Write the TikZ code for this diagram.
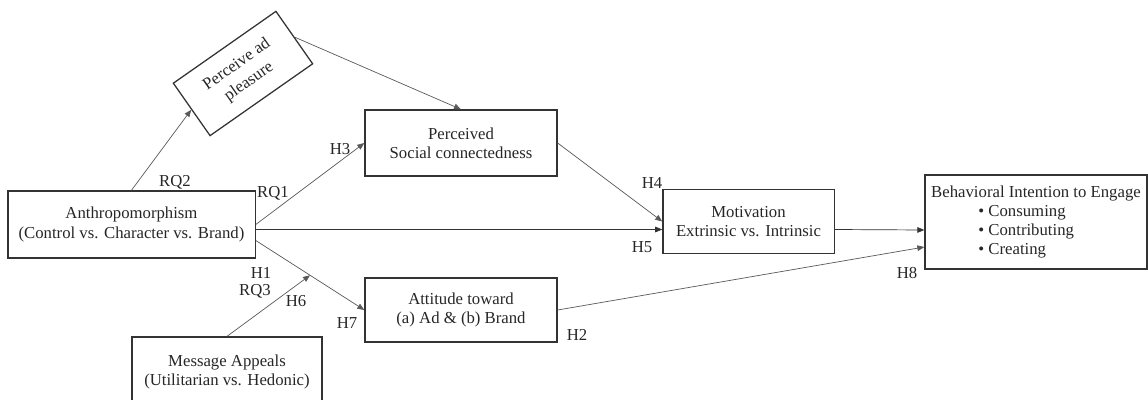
\documentclass[tikz,border=0pt]{standalone}
\usepackage{fontspec}
\setmainfont{Liberation Serif}
\usepackage{xcolor}
\usepackage{tikz}
\usetikzlibrary{arrows.meta}

\begin{document}
\begin{tikzpicture}[x=0.025cm, y=-0.025cm,
  every node/.style={font=\fontsize{11.9}{13.6}\selectfont, text=black!85},
  box/.style={rectangle, draw=black!80, line width=0.9pt, align=center, inner sep=0pt},
  link/.style={line width=0.5pt, draw=black!65, -{Triangle[length=5pt,width=4pt]}}]
\useasboundingbox (0,0) rectangle (1148,400);

\node[box, minimum width=6.18cm, minimum height=1.68cm] at (131.5, 224.5) (anth) {Anthropomorphism\\(Control vs. Character vs. Brand)};
\node[box, minimum width=3.13cm, minimum height=1.6cm, rotate=35, font=\fontsize{11.9}{15}\selectfont] at (243, 73.5) (pap) {Perceive ad\\pleasure};
\node[box, minimum width=4.8cm, minimum height=1.65cm] at (461, 143) (psc) {Perceived\\Social connectedness};
\node[box, minimum width=4.8cm, minimum height=1.6cm] at (461, 310) (att) {Attitude toward\\(a) Ad \& (b) Brand};
\node[box, minimum width=4.28cm, minimum height=1.6cm] at (748.5, 221.5) (mot) {Motivation\\Extrinsic vs. Intrinsic};
\node[box, minimum width=5.55cm, minimum height=2.35cm, align=left] at (1036, 222) (beh) {Behavioral Intention to Engage\\\hspace*{1.18cm}\textbullet\ Consuming\\\hspace*{1.18cm}\textbullet\ Contributing\\\hspace*{1.18cm}\textbullet\ Creating};
\node[box, minimum width=4.75cm, minimum height=2.15cm, text depth=0.48cm] at (227, 380) (msg) {Message Appeals\\(Utilitarian vs. Hedonic)};

\draw[link] (anth.north) -- (pap.west);
\draw[link] (pap.east) -- (psc.north);
\draw[link] (anth.east) -- (psc.west);
\draw[link, draw=black!80] ([yshift=-0.125cm]anth.east) -- ([yshift=-0.2cm]mot.west);
\draw[link] ([yshift=-0.4cm]anth.east) -- (att.west) coordinate[pos=0.5] (mid);
\draw[link] (msg.north) -- (mid);
\draw[link] (psc.east) -- (mot.west);
\draw[link, draw=black!80] ([yshift=-0.2cm]mot.east) -- ([yshift=-0.2cm]beh.west);
\draw[link] (att.east) -- ([yshift=-0.625cm]beh.west);

\node at (175, 182) (rq2) {RQ2};
\node at (273, 193) (rq1) {RQ1};
\node at (340, 149) (h3) {H3};
\node at (261, 273) (h1) {H1};
\node at (255, 291) (rq3) {RQ3};
\node at (296, 301) (h6) {H6};
\node at (347, 323) (h7) {H7};
\node at (577, 335) (h2) {H2};
\node at (652, 183) (h4) {H4};
\node at (642, 247) (h5) {H5};
\node at (907, 273) (h8) {H8};

\end{tikzpicture}
\end{document}
